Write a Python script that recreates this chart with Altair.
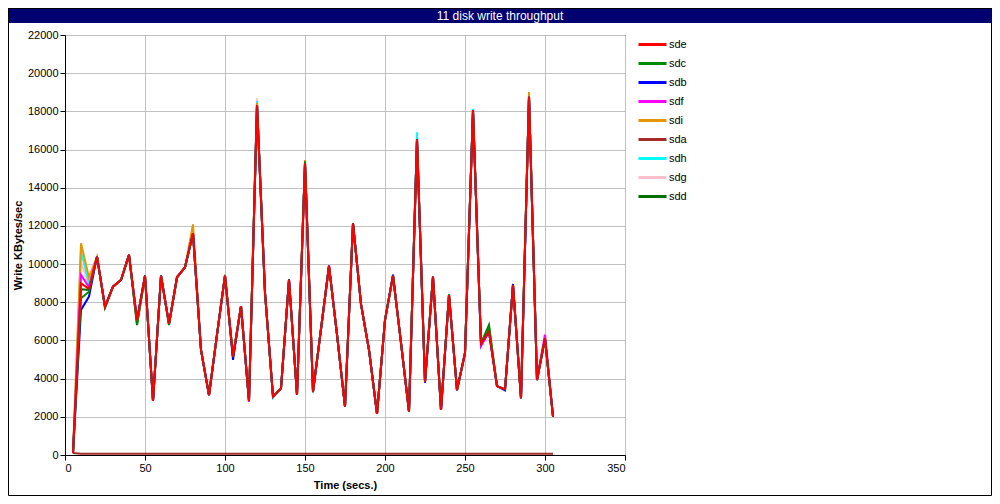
import altair as alt
import pandas as pd

# sample times (secs.)
times = [5, 10, 15, 20, 25, 30, 35, 40, 45, 50, 55, 60, 65, 70, 75, 80, 85, 90, 95, 100,
         105, 110, 115, 120, 125, 130, 135, 140, 145, 150, 155, 160, 165, 170, 175, 180,
         185, 190, 195, 200, 205, 210, 215, 220, 225, 230, 235, 240, 245, 250, 255, 260,
         265, 270, 275, 280, 285, 290, 295, 300, 305]

# sde (red) -- the dominant trace
sde = [100, 8990, 8700, 10390, 7770, 8820, 9170, 10480, 7050, 9390, 2830, 9390, 6870,
       9310, 9830, 11610, 5500, 3140, 6300, 9390, 5150, 7800, 2830, 18330, 8500, 3060,
       3490, 9170, 3140, 15280, 3320, 6600, 9900, 6300, 2530, 12140, 7900, 5500, 2150,
       7070, 9380, 5870, 2270, 16540, 3840, 9340, 2360, 8380, 3400, 5340, 18070, 5850,
       6460, 3610, 3440, 8900, 2970, 18770, 3930, 6100, 2010]

# the other disks follow sde except at the points listed here
sdc_diff = {10: 8210, 15: 8550, 25: 7710, 45: 6850, 65: 6800, 150: 15380, 265: 6700}
sdb_diff = {10: 7600, 15: 8300, 105: 4980, 140: 9200, 205: 9450, 225: 3780, 275: 3380, 280: 8960}
sdf_diff = {10: 9430, 15: 8800, 115: 2780, 165: 9950, 255: 18000, 260: 5700, 300: 6300}
sdi_diff = {10: 11090, 15: 9300, 80: 12080, 100: 9450, 120: 18450, 150: 15450, 290: 19010}
sdh_diff = {10: 10650, 15: 9000, 120: 18540, 130: 3000, 220: 16900, 255: 18130, 260: 5700}
sdg_diff = {10: 10060, 15: 8900, 120: 18690, 220: 16800, 300: 6340}
sdd_diff = {10: 8680, 15: 8650, 45: 6800, 155: 3280, 240: 8420, 265: 6810}

# sda stays near zero for the whole run
sda = [100, 60, 60, 60, 60, 60, 60, 60, 60, 60, 60, 60, 60, 60, 60, 60, 60, 60, 60, 60,
       60, 60, 60, 60, 60, 60, 60, 60, 60, 60, 60, 60, 60, 60, 60, 60, 60, 60, 60, 60,
       60, 60, 60, 60, 60, 60, 60, 60, 60, 60, 60, 60, 60, 60, 60, 60, 60, 60, 60, 60, 60]

disks = ["sde", "sdc", "sdb", "sdf", "sdi", "sda", "sdh", "sdg", "sdd"]
colors = ["#ff0000", "#008c00", "#0000ff", "#ff00ff", "#e69500", "#a52a2a", "#00ffff", "#ffc0cb", "#006e00"]

def follow(diff):
    return [diff.get(t, v) for t, v in zip(times, sde)]

series = {
    "sde": sde,
    "sdc": follow(sdc_diff),
    "sdb": follow(sdb_diff),
    "sdf": follow(sdf_diff),
    "sdi": follow(sdi_diff),
    "sda": sda,
    "sdh": follow(sdh_diff),
    "sdg": follow(sdg_diff),
    "sdd": follow(sdd_diff),
}

rows = []
for d in disks:
    for t, v in zip(times, series[d]):
        rows.append({"t": t, "v": v, "disk": d})
df = pd.DataFrame(rows)

FONT = "Liberation Sans"

x_enc = alt.X("t:Q", scale=alt.Scale(domain=[0, 350], nice=False),
              axis=alt.Axis(values=[0, 50, 100, 150, 200, 250, 300, 350], title="Time (secs.)",
                            titlePadding=6))
y_enc = alt.Y("v:Q", scale=alt.Scale(domain=[0, 22000], nice=False),
              axis=alt.Axis(values=list(range(0, 22001, 2000)), format="d",
                            title="Write KBytes/sec", titlePadding=4))
color_enc = alt.Color("disk:N", scale=alt.Scale(domain=disks, range=colors),
                      legend=alt.Legend(title=None, orient="none", legendX=572, legendY=0,
                                        symbolType="stroke", symbolSize=784, symbolStrokeWidth=3,
                                        labelFont=FONT, labelFontSize=11, labelColor="black",
                                        labelOffset=1, rowPadding=0, clipHeight=19, padding=0))

layers = []
for d in reversed(disks):
    layers.append(
        alt.Chart(df).transform_filter(alt.datum.disk == d)
        .mark_line(strokeWidth=2, clip=True)
        .encode(x=x_enc, y=y_enc, color=color_enc)
    )

one = pd.DataFrame({"k": [0]})
title_bar = alt.Chart(one).mark_rect(color="#000070").encode(
    x=alt.value(-57), x2=alt.value(927), y=alt.value(-27), y2=alt.value(-12))
title_text = alt.Chart(one).mark_text(
    text="11 disk write throughput", color="white", font=FONT, fontSize=12,
    align="center", baseline="middle").encode(x=alt.value(435), y=alt.value(-19.5))
frame = alt.Chart(one).mark_rect(fill=None, filled=False, stroke="black", strokeWidth=1).encode(
    x=alt.value(-56.5), x2=alt.value(926.5), y=alt.value(-26.5), y2=alt.value(460.5))

chart = alt.layer(*layers, title_bar, title_text, frame).properties(
    width=560, height=420,
    padding={"left": 57, "top": 27, "right": 367, "bottom": 41},
    autosize=alt.AutoSizeParams(type="none"),
    background="white",
).configure_view(stroke="black", strokeWidth=1).configure_axis(
    labelFont=FONT, labelFontSize=11, labelColor="black",
    titleFont=FONT, titleFontSize=11, titleFontWeight="bold", titleColor="black",
    tickColor="black", tickSize=5, domainColor="black",
    gridColor="#c0c0c0", gridWidth=1, labelPadding=2,
)

chart.save("out.html", embed_options={"renderer": "svg", "actions": False})
